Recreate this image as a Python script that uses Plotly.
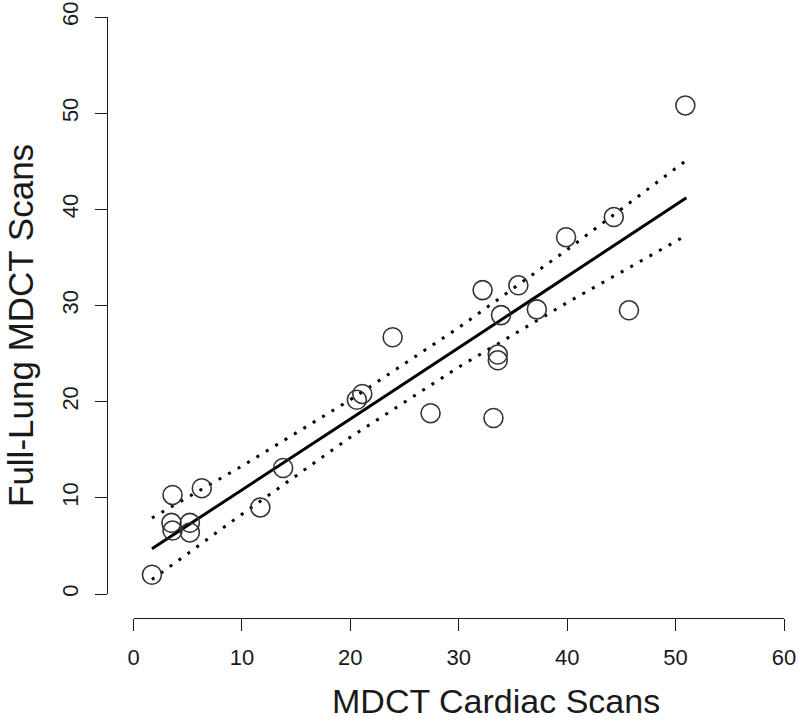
import plotly.graph_objects as go

# scan pairs
cardiac = [1.7, 3.6, 6.3, 3.5, 3.6, 5.2, 5.2, 11.7, 13.8, 20.6, 21.1, 23.9,
           27.4, 32.2, 33.2, 33.6, 33.6, 33.9, 35.5, 37.2, 39.9, 44.3, 45.7, 50.9]
full_lung = [2.0, 10.3, 11.0, 7.4, 6.6, 7.4, 6.4, 9.0, 13.1, 20.2, 20.8, 26.7,
             18.8, 31.6, 18.3, 24.9, 24.3, 29.0, 32.1, 29.6, 37.1, 39.2, 29.5, 50.8]

# fitted line and confidence band
fit_x = [1.7, 10, 20, 30, 40, 51]
fit_y = [4.7, 10.8, 18.2, 25.6, 33.0, 41.2]
band_upper = [7.9, 13.3, 20.2, 27.7, 35.8, 45.1]
band_lower = [1.5, 8.3, 16.3, 23.6, 30.3, 37.3]

ticks = [0, 10, 20, 30, 40, 50, 60]

W, H = 800, 722
FONT = "Liberation Sans, Arial, sans-serif"
INK = "#1a1a1a"


def px_x(p):
    return p / W


def px_y(p):
    return (H - p) / H


fig = go.Figure()
for band in (band_upper, band_lower):
    fig.add_trace(go.Scatter(x=fit_x, y=band, mode="lines",
                             line=dict(color="black", width=3, dash="3px,8px")))
fig.add_trace(go.Scatter(x=fit_x, y=fit_y, mode="lines",
                         line=dict(color="black", width=3)))
fig.add_trace(go.Scatter(x=cardiac, y=full_lung, mode="markers",
                         marker=dict(symbol="circle-open", size=19,
                                     color="#333", line=dict(width=1.6))))

axis_common = dict(range=[0, 60], tickvals=ticks, showgrid=False, zeroline=False,
                   showline=True, linecolor=INK, linewidth=1.3, ticks="outside",
                   ticklen=12, tickwidth=1.3, tickcolor=INK, automargin=False,
                   ticklabeloverflow="allow",
                   tickfont=dict(family=FONT, size=22, color=INK))

fig.update_layout(
    width=W, height=H, margin=dict(l=0, r=0, t=0, b=0),
    plot_bgcolor="white", paper_bgcolor="white", showlegend=False,
    xaxis=dict(domain=[px_x(133.5), px_x(784)], anchor="free",
               position=px_y(617.5), ticklabelstandoff=8, **axis_common),
    yaxis=dict(domain=[px_y(594), px_y(17)], anchor="free",
               position=px_x(107), tickangle=-90, ticklabelstandoff=8, **axis_common),
    annotations=[
        dict(text="MDCT Cardiac Scans", x=px_x(496), y=px_y(701), xref="paper",
             yref="paper", showarrow=False, xanchor="center", yanchor="middle",
             font=dict(family=FONT, size=34, color=INK)),
        dict(text="Full-Lung MDCT Scans", x=px_x(20), y=px_y(326), xref="paper",
             yref="paper", showarrow=False, xanchor="center", yanchor="middle",
             textangle=-90, font=dict(family=FONT, size=35, color=INK)),
    ],
)

# drop the browser's default body margin so the figure fills the window
fig.write_html("out.html", config={"displayModeBar": False},
               post_script="document.body.style.margin = '0';")
